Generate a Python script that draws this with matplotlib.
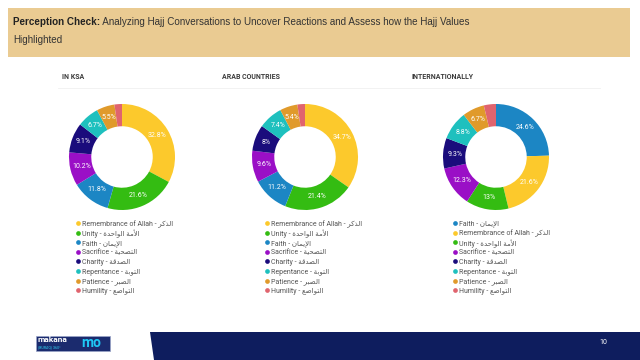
import numpy as np
import matplotlib.pyplot as plt
from matplotlib.lines import Line2D
from matplotlib.patches import Rectangle, Polygon

# ---- данные ----
title_bold = "Perception Check:"
title_line1 = " Analyzing Hajj Conversations to Uncover Reactions and Assess how the Hajj Values"
title_line2 = "Highlighted"

regions = ["IN KSA", "ARAB COUNTRIES", "INTERNATIONALLY"]

ksa_labels = ["Remembrance of Allah", "Unity", "Faith", "Sacrifice", "Charity",
              "Repentance", "Patience", "Humility"]
ksa_values = [32.8, 21.6, 11.8, 10.2, 9.1, 6.7, 5.5, 2.3]

arab_labels = ["Remembrance of Allah", "Unity", "Faith", "Sacrifice", "Charity",
               "Repentance", "Patience", "Humility"]
arab_values = [34.7, 21.4, 11.2, 9.6, 8, 7.4, 5.4, 2.3]

intl_labels = ["Faith", "Remembrance of Allah", "Unity", "Sacrifice", "Charity",
               "Repentance", "Patience", "Humility"]
intl_values = [24.6, 21.6, 13, 12.3, 9.3, 8.8, 6.7, 3.7]

arabic = {
    "Remembrance of Allah": "الذكر",
    "Unity": "الأمة الواحدة",
    "Faith": "الإيمان",
    "Sacrifice": "التضحية",
    "Charity": "الصدقة",
    "Repentance": "التوبة",
    "Patience": "الصبر",
    "Humility": "التواضع",
}

colors = {
    "Remembrance of Allah": "#FCC92C",
    "Unity": "#34BC12",
    "Faith": "#1C86C4",
    "Sacrifice": "#9A0FC6",
    "Charity": "#1A0C7C",
    "Repentance": "#1EC0BE",
    "Patience": "#E09A2B",
    "Humility": "#E0646E",
}

# ---- простое соединение арабских букв (matplotlib не умеет) ----
FORMS = {'ا': 0xFE8D, 'أ': 0xFE83, 'إ': 0xFE87, 'ب': 0xFE8F, 'ة': 0xFE93, 'ت': 0xFE95,
         'ح': 0xFEA1, 'د': 0xFEA9, 'ذ': 0xFEAB, 'ر': 0xFEAD, 'ص': 0xFEB9, 'ض': 0xFEBD,
         'ع': 0xFEC9, 'ق': 0xFED5, 'ك': 0xFED9, 'ل': 0xFEDD, 'م': 0xFEE1, 'ن': 0xFEE5,
         'و': 0xFEED, 'ي': 0xFEF1}
DUAL = set('بتحصضعقكلمني')
LAM_ALEF = {'ا': 0xFEFB, 'أ': 0xFEF7, 'إ': 0xFEF9}


def shape(word):
    out = []
    i = 0
    while i < len(word):
        c = word[i]
        if c not in FORMS:
            out.append(c)
            i += 1
            continue
        prev = word[i - 1] if i > 0 else ''
        joins_prev = prev in DUAL
        if c == 'ل' and i + 1 < len(word) and word[i + 1] in LAM_ALEF:
            out.append(chr(LAM_ALEF[word[i + 1]] + (1 if joins_prev else 0)))
            i += 2
            continue
        nxt = word[i + 1] if i + 1 < len(word) else ''
        joins_next = c in DUAL and nxt in FORMS
        base = FORMS[c]
        if joins_prev and joins_next:
            out.append(chr(base + 3))
        elif joins_prev:
            out.append(chr(base + 1))
        elif joins_next:
            out.append(chr(base + 2))
        else:
            out.append(chr(base))
        i += 1
    return ''.join(out)[::-1]


W, H = 640, 360


def fx(x):
    return x / W


def fy(y):
    return 1 - y / H


plt.rcParams['font.family'] = ['Roboto', 'DejaVu Sans']

fig = plt.figure(figsize=(6.4, 3.6), dpi=100)
fig.patch.set_facecolor("white")

# шапка
fig.patches.append(Rectangle((fx(8), fy(57)), fx(622), 49 / H, transform=fig.transFigure,
                             facecolor="#EACB92", edgecolor="none"))
t = fig.text(fx(13), fy(22), title_bold, fontsize=7.1, fontweight="bold",
             family="Liberation Sans", color="#222222", va="center")
renderer = fig.canvas.get_renderer()
bb = t.get_window_extent(renderer)
fig.text(bb.x1 / W, fy(22), title_line1, fontsize=7.1,
         family="Liberation Sans", color="#333333", va="center")
fig.text(fx(13), fy(40), title_line2, fontsize=7.1,
         family="Liberation Sans", color="#333333", va="center")

# тонкая линия под заголовками
fig.add_artist(Line2D([fx(58), fx(600)], [fy(88), fy(88)], color="#F0F0F0", lw=0.6))

datasets = [(ksa_labels, ksa_values), (arab_labels, arab_values), (intl_labels, intl_values)]
title_x = [62, 222, 411]
centers = [(122, 157), (305, 157), (496, 157)]
legend_x = [78, 267, 455]
R = 53

for k, (labels, values) in enumerate(datasets):
    fig.text(fx(title_x[k]), fy(77), regions[k], fontsize=5, fontweight="bold",
             color="#3C3C3C", va="center")
    cx, cy = centers[k]
    ax = fig.add_axes([fx(cx - R), fy(cy + R), 2 * R / W, 2 * R / H])
    wedges, _ = ax.pie(values, colors=[colors[l] for l in labels], startangle=90,
                       counterclock=False, radius=1,
                       wedgeprops=dict(width=0.42, edgecolor="none"))
    ax.set_xlim(-1, 1)
    ax.set_ylim(-1, 1)
    ax.set_aspect("equal")
    ax.axis("off")
    for w, v in zip(wedges, values):
        if v < 4:
            continue
        ang = np.deg2rad((w.theta1 + w.theta2) / 2)
        ax.text(0.78 * np.cos(ang), 0.78 * np.sin(ang), f"{v:g}%", fontsize=5,
                color="white", ha="center", va="center")

    # легенда вручную, чтобы шаг строк был ровный
    for i, l in enumerate(labels):
        y = 223 + i * 9.6
        fig.add_artist(Line2D([fx(legend_x[k])], [fy(y)], marker="o", ls="none",
                              markersize=3.4, markerfacecolor=colors[l], markeredgecolor="none"))
        fig.text(fx(legend_x[k] + 4), fy(y), f"{l} - {shape(arabic[l])}", fontsize=5,
                 color="#555555", va="center_baseline")

# низ слайда
fig.patches.append(Polygon([(fx(150), fy(332)), (fx(640), fy(332)), (fx(640), fy(360)),
                            (fx(154), fy(360))], closed=True, transform=fig.transFigure,
                           facecolor="#0E1D5E", edgecolor="none"))
fig.text(fx(603), fy(343), "10", fontsize=5, color="white", ha="center", va="center")

fig.patches.append(Rectangle((fx(36), fy(351)), 74 / W, 15 / H, transform=fig.transFigure,
                             facecolor="#1B2B6E", edgecolor="#9AA4C8", lw=0.5))
fig.text(fx(38), fy(340), "makana", fontsize=6, fontweight="bold", color="white", va="center")
fig.text(fx(38), fy(347.5), "(BURAQ) 360°", fontsize=2.6, color="#33D0F0", va="center")
fig.text(fx(81), fy(343), "mo", fontsize=10, fontweight="bold", color="#1FC8F5", va="center")

fig.savefig("out.png", dpi=100)
